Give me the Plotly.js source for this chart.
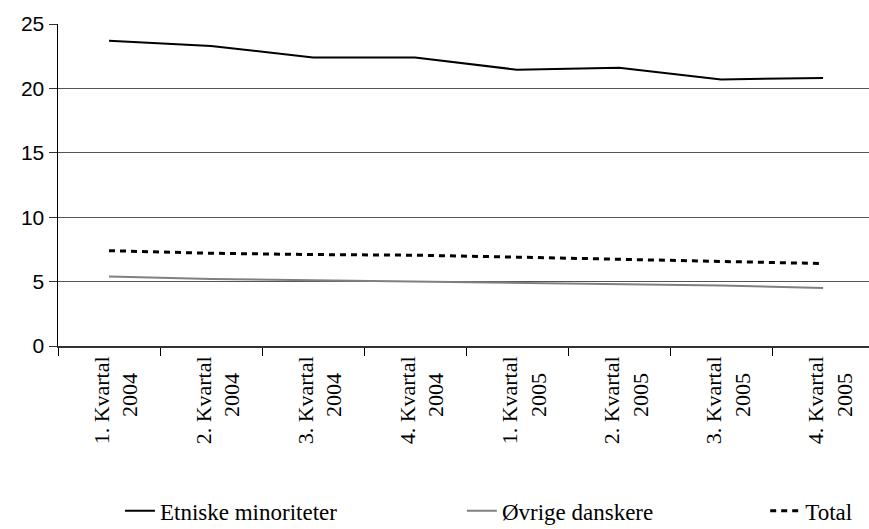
<!DOCTYPE html>
<html>
<head>
<meta charset="utf-8">
<script src="https://cdn.plot.ly/plotly-3.0.1.min.js"></script>
<style>html,body{margin:0;padding:0;background:#fff;}#chart{width:869px;height:529px;}</style>
</head>
<body>
<div id="chart"></div>
<script>
var categories = ['1. Kvartal<br>2004', '2. Kvartal<br>2004', '3. Kvartal<br>2004', '4. Kvartal<br>2004',
                  '1. Kvartal<br>2005', '2. Kvartal<br>2005', '3. Kvartal<br>2005', '4. Kvartal<br>2005'];
var etniske = [23.7, 23.3, 22.4, 22.4, 21.45, 21.6, 20.7, 20.8];
var ovrige  = [5.4, 5.2, 5.1, 5.0, 4.9, 4.8, 4.7, 4.5];
var total   = [7.4, 7.2, 7.1, 7.05, 6.9, 6.75, 6.55, 6.4];
var seriesNames = ['Etniske minoriteter', 'Øvrige danskere', 'Total'];

var pad = '\u00A0\u00A0\u00A0';
var tickText = categories.map(function (c) { return c + pad; });
var xIdx = categories.map(function (c, i) { return i; });

var traces = [
  {x: xIdx, y: etniske, name: seriesNames[0], type: 'scatter', mode: 'lines', legend: 'legend',
   line: {color: '#000000', width: 2}},
  {x: xIdx, y: ovrige, name: seriesNames[1], type: 'scatter', mode: 'lines', legend: 'legend2',
   line: {color: '#808080', width: 2}},
  {x: xIdx, y: total, name: seriesNames[2], type: 'scatter', mode: 'lines', legend: 'legend3',
   line: {color: '#000000', width: 3, dash: '6px,5px'}}
];

var serif = 'Liberation Serif';
var legFont = {family: serif, size: 23, color: '#000'};
function leg(x) {
  return {orientation: 'h', x: x, xanchor: 'left', y: -0.512, yanchor: 'middle',
          font: legFont, bgcolor: 'rgba(0,0,0,0)'};
}

var layout = {
  width: 869, height: 529,
  font: {family: serif, size: 23, color: '#000'},
  margin: {l: 58, r: 0, t: 24, b: 183, autoexpand: false},
  paper_bgcolor: '#ffffff', plot_bgcolor: '#ffffff',
  showlegend: true,
  legend: leg(0.0764),
  legend2: leg(0.498),
  legend3: leg(0.872),
  xaxis: {
    range: [-0.5, 7.45], tickmode: 'array', tickvals: xIdx, ticktext: tickText,
    tickangle: -90, showgrid: false, zeroline: false, automargin: false,
    showline: false, ticks: '', ticklabelstandoff: 5, ticklabelshift: 7,
    tickfont: {family: serif, size: 22, color: '#000'},
    fixedrange: true
  },
  xaxis2: {
    overlaying: 'x', range: [-0.5, 7.45], tickmode: 'array',
    tickvals: [-0.5, 0.5, 1.5, 2.5, 3.5, 4.5, 5.5, 6.5],
    ticktext: ['', '', '', '', '', '', '', ''], ticks: 'outside', ticklen: 8,
    tickcolor: '#000', tickwidth: 1, showline: true, linecolor: '#333', linewidth: 1.5,
    showgrid: false, zeroline: false, side: 'bottom', anchor: 'y', automargin: false
  },
  yaxis: {
    range: [0, 25], tickvals: [0, 5, 10, 15, 20, 25], ticks: 'outside', ticklen: 8,
    tickcolor: '#333', showline: true, linecolor: '#000', linewidth: 1.5,
    showgrid: true, gridcolor: '#555', gridwidth: 1, zeroline: false, automargin: false,
    tickfont: {family: 'Liberation Sans', size: 21, color: '#000'},
    fixedrange: true
  }
};
traces.push({x: [0], y: [null], xaxis: 'x2', showlegend: false, hoverinfo: 'skip'});

Plotly.newPlot('chart', traces, layout, {displayModeBar: false, staticPlot: true});
</script>
</body>
</html>
